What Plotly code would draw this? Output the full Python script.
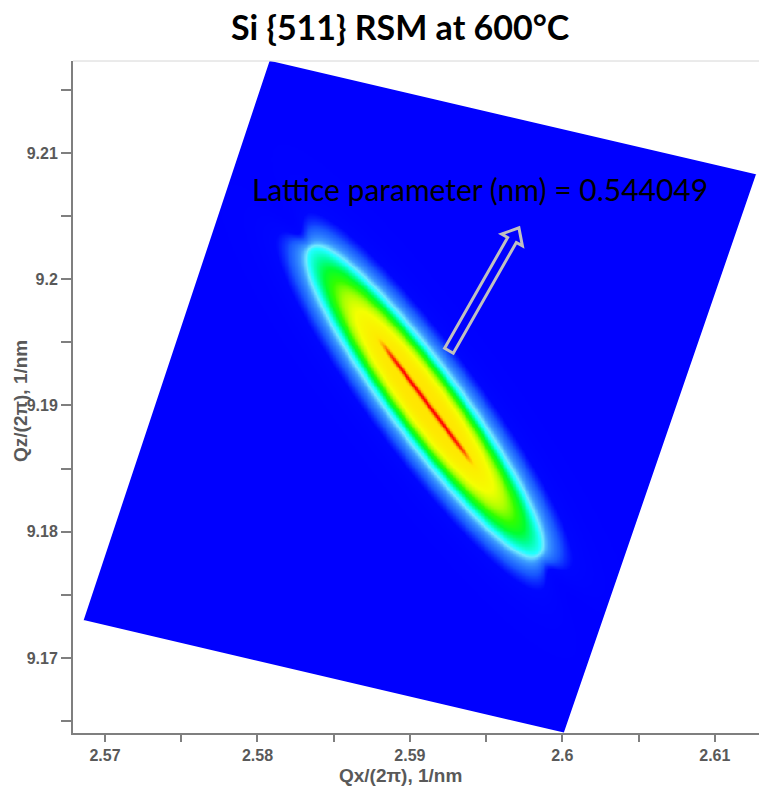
import numpy as np
import plotly.graph_objects as go

# ---------------- data ----------------
title_text = "Si {511} RSM at 600°C"
note_text = "Lattice parameter (nm) = 0.544049"
x_title = "Qx/(2π), 1/nm"
y_title = "Qz/(2π), 1/nm"

x_range = [2.5679, 2.6129]
y_range = [9.16406, 9.21728]
x_tick_vals = [2.57, 2.575, 2.58, 2.585, 2.59, 2.595, 2.60, 2.605, 2.61]
x_tick_text = ["2.57", "", "2.58", "", "2.59", "", "2.6", "", "2.61"]
y_tick_vals = [9.165, 9.17, 9.175, 9.18, 9.185, 9.19, 9.195, 9.20, 9.205, 9.21, 9.215]
y_tick_text = ["", "9.17", "", "9.18", "", "9.19", "", "9.2", "", "9.21", ""]

# corners of the scanned area (Qx, Qz): top, right, bottom, left
scan_qx = [2.5808, 2.6127, 2.6001, 2.5686]
scan_qz = [9.2173, 9.2083, 9.1641, 9.1730]

# diffraction streak: tips of the main lobe, and sharp ridge ends (Qx, Qz)
streak_qx = [2.58358, 2.59827]
streak_qz = [9.20231, 9.17839]
ridge_qx = [2.58815, 2.59392]
ridge_qz = [9.19494, 9.18568]
peak_level = 0.85
edge_level = 0.38
ridge_level = 0.15

# arrow (tail -> tip) in (Qx, Qz)
arrow_qx = [2.59256, 2.59715]
arrow_qz = [9.19433, 9.20407]
note_pos = [2.59457, 9.20712]

# ---------------- layout geometry ----------------
W, H = 759, 786
ml, mr, mt, mb = 73, 0, 61, 53
pw, ph = W - ml - mr, H - mt - mb
sx = pw / (x_range[1] - x_range[0])
sy = ph / (y_range[1] - y_range[0])


def to_px(qx, qz):
    return np.array([(qx - x_range[0]) * sx, (qz - y_range[0]) * sy])


def to_q(p):
    return p[0] / sx + x_range[0], p[1] / sy + y_range[0]


# ---------------- intensity map ----------------
nx, ny = 470, 460
gx = np.linspace(x_range[0], x_range[1], nx)
gy = np.linspace(y_range[0], y_range[1], ny)
X, Y = np.meshgrid(gx, gy)
PX = (X - x_range[0]) * sx
PY = (Y - y_range[0]) * sy

a = to_px(streak_qx[0], streak_qz[0])
b = to_px(streak_qx[1], streak_qz[1])
c = (a + b) / 2
L = np.linalg.norm(b - a) / 2
u = (b - a) / (2 * L)
n = np.array([-u[1], u[0]])
s = (PX - c[0]) * u[0] + (PY - c[1]) * u[1]
t = (PX - c[0]) * n[0] + (PY - c[1]) * n[1]
halfwidth = 33.0
r = np.sqrt((s / L) ** 2 + (t / halfwidth) ** 2) + 1e-9
k = np.log(peak_level / edge_level)
inside = peak_level * np.exp(-k * np.minimum(r, 1.0) ** 4)
grad = np.sqrt((s / L ** 2) ** 2 + (t / halfwidth ** 2) ** 2) / r
dist = np.maximum(r - 1.0, 0.0) / np.maximum(grad, 1e-9)
outside = edge_level * np.exp(-(dist / 16.0) ** 1.2)
z = np.where(r <= 1.0, inside, outside)

ra = to_px(ridge_qx[0], ridge_qz[0])
rb = to_px(ridge_qx[1], ridge_qz[1])
rc = (ra + rb) / 2
rL = np.linalg.norm(rb - ra) / 2
ru = (rb - ra) / (2 * rL)
rn = np.array([-ru[1], ru[0]])
s2 = (PX - rc[0]) * ru[0] + (PY - rc[1]) * ru[1]
t2 = (PX - rc[0]) * rn[0] + (PY - rc[1]) * rn[1]
z = z + ridge_level * np.exp(-(t2 / 2.4) ** 2) * np.exp(-(s2 / rL) ** 8)
z = np.round(z, 3)

colorscale = [
    [0.00, "#0000ff"],
    [0.09, "#0006ff"],
    [0.16, "#1858ff"],
    [0.26, "#3c9cff"],
    [0.33, "#70e8ff"],
    [0.38, "#20ffff"],
    [0.46, "#00ffa0"],
    [0.54, "#00ff30"],
    [0.62, "#30ff00"],
    [0.70, "#a8ff00"],
    [0.77, "#f4ff00"],
    [0.85, "#ffe600"],
    [0.91, "#ffa000"],
    [0.96, "#ff4800"],
    [1.00, "#ff0000"],
]

fig = go.Figure()
fig.add_trace(go.Heatmap(x=gx, y=gy, z=z, colorscale=colorscale, zmin=0, zmax=1,
                         zsmooth="best", showscale=False, hoverinfo="skip"))

# white cover outside the scanned quadrilateral (one half-plane per edge)
cx, cy = [], []
corners = [to_px(qx, qz) for qx, qz in zip(scan_qx, scan_qz)]
for i in range(4):
    P = corners[i]
    Q = corners[(i + 1) % 4]
    d = (Q - P) / np.linalg.norm(Q - P)
    out = np.array([-d[1], d[0]])
    poly = [P - d * 3000, Q + d * 3000, Q + d * 3000 + out * 3000, P - d * 3000 + out * 3000]
    for p in poly:
        qx, qz = to_q(p)
        cx.append(qx)
        cy.append(qz)
    cx.append(None)
    cy.append(None)
fig.add_trace(go.Scatter(x=cx, y=cy, mode="lines", fill="toself", fillcolor="white",
                         line=dict(width=0, color="white"), hoverinfo="skip", showlegend=False))

# block arrow outline
T = to_px(arrow_qx[0], arrow_qz[0])
Pt = to_px(arrow_qx[1], arrow_qz[1])
ln = np.linalg.norm(Pt - T)
au = (Pt - T) / ln
an = np.array([-au[1], au[0]])
hw, hhw, hl = 5.0, 12.0, 14.0
pts = [T + an * hw, T + an * hw + au * (ln - hl), T + an * hhw + au * (ln - hl), Pt,
       T - an * hhw + au * (ln - hl), T - an * hw + au * (ln - hl), T - an * hw]
path = "M " + " L ".join("{:.6f},{:.6f}".format(*to_q(p)) for p in pts) + " Z"

axis_font = dict(family="Liberation Sans, Arial, sans-serif", size=16, color="#595959", weight="bold")

fig.update_layout(
    width=W, height=H,
    margin=dict(l=ml, r=mr, t=mt, b=mb, pad=0),
    paper_bgcolor="white", plot_bgcolor="white",
    showlegend=False,
    xaxis=dict(range=x_range, tickvals=x_tick_vals, ticktext=x_tick_text, ticks="outside",
               ticklen=7, tickwidth=1.5, tickcolor="#7f7f7f", showline=True, linecolor="#7f7f7f",
               linewidth=2, showgrid=False, zeroline=False, tickfont=axis_font),
    yaxis=dict(range=y_range, tickvals=y_tick_vals, ticktext=y_tick_text, ticks="outside",
               ticklen=10, tickwidth=1.5, tickcolor="#7f7f7f", showline=True, linecolor="#7f7f7f",
               linewidth=2, showgrid=False, zeroline=False, tickfont=axis_font),
    shapes=[
        dict(type="path", path=path, xref="x", yref="y", line=dict(color="#c0c0c0", width=3),
             fillcolor="rgba(0,0,0,0)"),
        dict(type="line", xref="paper", yref="paper", x0=0, x1=1, y0=1, y1=1,
             line=dict(color="#d6d6d6", width=1)),
    ],
    annotations=[
        dict(text=title_text, xref="paper", yref="paper", x=(400 - ml) / pw, y=1 + (mt - 27) / ph,
             showarrow=False, xanchor="center", yanchor="middle",
             font=dict(family="Lato, sans-serif", size=34, color="black", weight="bold")),
        dict(text=note_text, xref="x", yref="y", x=note_pos[0], y=note_pos[1], showarrow=False,
             xanchor="center", yanchor="middle",
             font=dict(family="Lato, sans-serif", size=30, color="black")),
        dict(text=x_title, xref="paper", yref="paper", x=(400 - ml) / pw, y=-(763 - (mt + ph)) / ph,
             showarrow=False, xanchor="center", yanchor="top",
             font=dict(family="Liberation Sans, Arial, sans-serif", size=19, color="#595959", weight="bold")),
        dict(text=y_title, xref="paper", yref="paper", x=(20 - ml) / pw, y=(mt + ph - 401) / ph,
             showarrow=False, xanchor="center", yanchor="middle", textangle=-90,
             font=dict(family="Liberation Sans, Arial, sans-serif", size=19, color="#595959", weight="bold")),
    ],
)

fig.write_html("out.html")
